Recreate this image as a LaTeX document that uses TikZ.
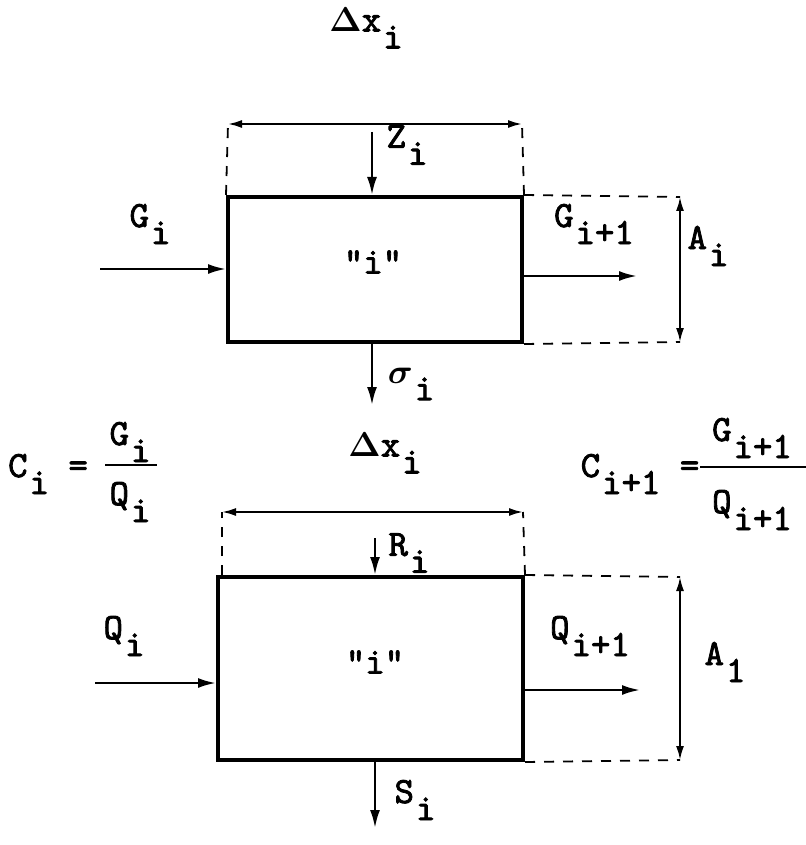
\documentclass[tikz,border=0pt]{standalone}
\usepackage{fontspec}
\setmonofont{lmmono10-regular.otf}[FakeBold=2.2]
\usetikzlibrary{arrows.meta,positioning}
\newcommand{\sbs}[1]{\hspace{1pt}\raisebox{-8.5pt}{#1}}
\tikzset{
  cell/.style={draw=black, line width=2pt, inner sep=0pt},
  guide/.style={draw=black, line width=0.9pt, dash pattern=on 5pt off 4.5pt},
  flow/.style={-{Latex[length=9pt,width=5pt]}, line width=1.2pt},
  span/.style={{Latex[length=7pt,width=4pt]}-{Latex[length=7pt,width=4pt]}, line width=1pt},
  lbl/.style={font=\fontsize{18.5}{20}\selectfont\ttfamily\boldmath, inner sep=1pt},
}
\begin{document}
\begin{tikzpicture}[x=0.5pt,y=-0.5pt]
  \useasboundingbox (0,0) rectangle (806,845);
  % upper cell
  \node[cell, minimum width=147pt, minimum height=72.5pt] (cellA) at (375,269.5) {};
  \node[lbl] (nameA) at (373,262) {"i"};
  \coordinate (dimAl) at (228,124);
  \coordinate (dimAr) at (522,124);
  \coordinate (sideAt) at (680,197);
  \coordinate (sideAb) at (680,342);
  \draw[guide] (cellA.north west) -- (dimAl);
  \draw[guide] (cellA.north east) -- (dimAr);
  \draw[span] (dimAl) -- (dimAr);
  \draw[guide] (cellA.north east) -- (sideAt);
  \draw[guide] (cellA.south east) -- (sideAb);
  \draw[span] (sideAt) -- (sideAb);
  \coordinate (inA) at (100,269);
  \coordinate (outA) at (637,276);
  \coordinate (topA) at (372,132);
  \coordinate (botA) at (372,405);
  \draw[flow] (inA) -- (inA -| cellA.west);
  \draw[flow] (outA -| cellA.east) -- (outA);
  \draw[flow] (topA) -- (topA |- cellA.north);
  \draw[flow] (botA |- cellA.south) -- (botA);
  \node[lbl] (dxA) at (366,28) {$\Delta$x\sbs{i}};
  \node[lbl] (zA) at (407,145) {Z\sbs{i}};
  \node[lbl] (gA) at (150,224) {G\sbs{i}};
  \node[lbl] (gnA) at (594,224) {G\sbs{i+1}};
  \node[lbl] (aA) at (708,246) {A\sbs{i}};
  \node[lbl] (sgA) at (411,384) {$\sigma$\sbs{i}};
  % lower cell
  \node[cell, minimum width=152.5pt, minimum height=91.5pt] (cellB) at (370.5,668.5) {};
  \node[lbl] (nameB) at (375,662) {"i"};
  \coordinate (dimBl) at (222,512);
  \coordinate (dimBr) at (523,512);
  \coordinate (sideBt) at (680,577);
  \coordinate (sideBb) at (680,760);
  \draw[guide] (cellB.north west -| dimBl) -- (dimBl);
  \draw[guide] (cellB.north east) -- (dimBr);
  \draw[span] (dimBl) -- (dimBr);
  \draw[guide] (cellB.north east) -- (sideBt);
  \draw[guide] (cellB.south east) -- (sideBb);
  \draw[span] (sideBt) -- (sideBb);
  \coordinate (inB) at (95,683);
  \coordinate (outB) at (640,690);
  \coordinate (topB) at (375,538);
  \coordinate (botB) at (375,828);
  \draw[flow] (inB) -- (inB -| cellB.west);
  \draw[flow] (outB -| cellB.east) -- (outB);
  \draw[flow] (topB) -- (topB |- cellB.north);
  \draw[flow] (botB |- cellB.south) -- (botB);
  \node[lbl] (dxB) at (385,453) {$\Delta$x\sbs{i}};
  \node[lbl] (rB) at (409,553) {R\sbs{i}};
  \node[lbl] (qB) at (124,636) {Q\sbs{i}};
  \node[lbl] (qnB) at (590,636) {Q\sbs{i+1}};
  \node[lbl] (aB) at (725,662) {A\sbs{1}};
  \node[lbl] (sB) at (415,800) {S\sbs{i}};
  % concentrations
  \node[lbl] (cL) at (48,474) {C\sbs{i} =};
  \node[lbl] (numL) at (130,442) {G\sbs{i}};
  \node[lbl] (denL) at (130,502) {Q\sbs{i}};
  \draw[line width=1.2pt] (105,465) -- (157,465);
  \node[lbl] (cR) at (640,474) {C\sbs{i+1} =};
  \node[lbl] (numR) at (752,438) {G\sbs{i+1}};
  \node[lbl] (denR) at (752,510) {Q\sbs{i+1}};
  \draw[line width=1.2pt] (700,467) -- (806,467);
\end{tikzpicture}
\end{document}
